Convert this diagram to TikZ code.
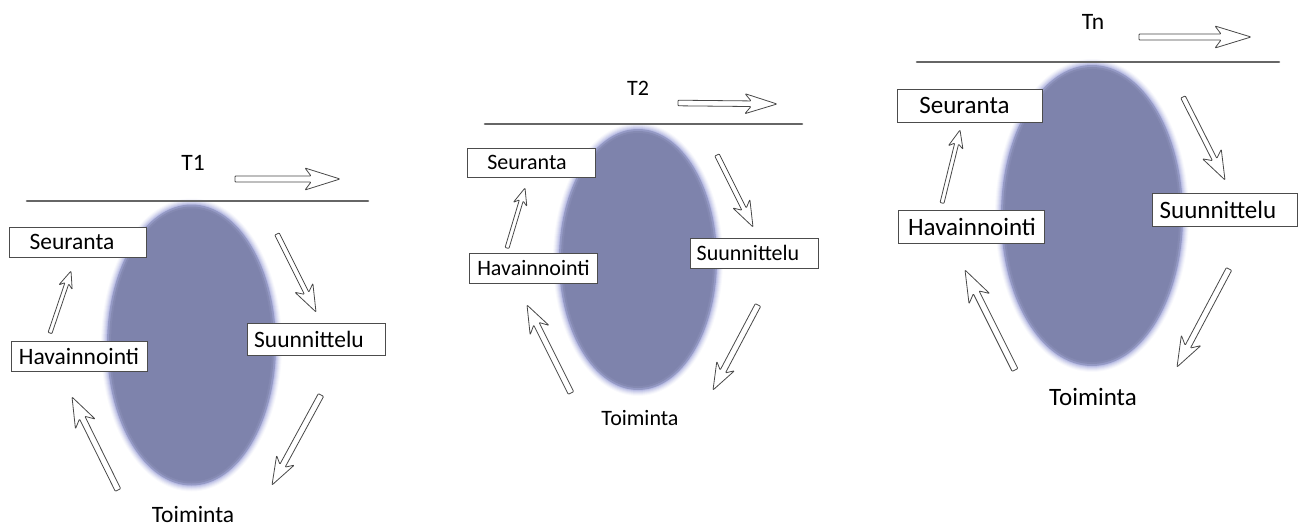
\documentclass[tikz,border=0pt]{standalone}
\usepackage{fontspec}
\setmainfont{Carlito}
\usetikzlibrary{shadows}

\definecolor{ellbody}{RGB}{126,131,172}
\definecolor{ellhalo}{RGB}{152,157,214}
\definecolor{rulegray}{RGB}{102,102,102}
\definecolor{arrowgray}{RGB}{72,72,72}

% hollow block arrow between two named coordinates:
% #1 from, #2 to, #3 shaft half-width, #4 head half-width, #5 head length, #6 barb notch
\newcommand\hollowarrow[6]{%
  \pgfmathanglebetweenpoints{\pgfpointanchor{#1}{center}}{\pgfpointanchor{#2}{center}}%
  \let\hAng\pgfmathresult
  \pgfpointdiff{\pgfpointanchor{#1}{center}}{\pgfpointanchor{#2}{center}}%
  \pgfgetlastxy\hDx\hDy
  \pgfmathsetmacro\hLen{veclen(\hDx,\hDy)}%
  \begin{scope}[shift={(#1)},rotate=\hAng]
    \draw[arrowline] (0,#3) -- ({\hLen-#5+#6},#3) -- ({\hLen-#5},#4) -- (\hLen,0)
      -- ({\hLen-#5},-#4) -- ({\hLen-#5+#6},-#3) -- (0,-#3) -- cycle;
  \end{scope}}

% ellipse with a soft bluish rim: #1 centre, #2 x radius, #3 y radius
\newcommand\softellipse[3]{%
  \foreach \k/\op in {0/0.06,1/0.09,2/0.12,3/0.16,4/0.22,5/0.30,6/0.40}{%
    \fill[ellhalo,opacity=\op] (#1) ellipse [x radius={#2+4-\k}, y radius={#3+4-\k}];}
  \fill[ellbody,opacity=0.5] (#1) ellipse [x radius={#2-2}, y radius={#3-2}];
  \fill[ellbody,opacity=0.7] (#1) ellipse [x radius={#2-4}, y radius={#3-4}];
  \fill[ellbody] (#1) ellipse [x radius={#2-6}, y radius={#3-6}];}

\begin{document}
\begin{tikzpicture}[x=1pt,y=-1pt,
  arrowline/.style={draw=arrowgray,fill=white,line width=0.8pt,line join=round,rounded corners=0.8pt},
  timeline/.style={draw=rulegray,line width=2.6pt,line cap=round},
  box/.style={draw=black!70,fill=white,line width=0.9pt,inner sep=0pt,
    drop shadow={shadow xshift=1.2pt,shadow yshift=-1.2pt,opacity=0.35}},
  txtA/.style={inner sep=0pt,font=\fontsize{23.5}{28}\selectfont},
  txtB/.style={inner sep=0pt,font=\fontsize{22}{26}\selectfont},
  txtC/.style={inner sep=0pt,font=\fontsize{25}{30}\selectfont},
]
\useasboundingbox (0,0) rectangle (1307,527);

%% ---------------- cycle T1 ----------------
\coordinate (e1) at (191.5,345);
\softellipse{e1}{86.5}{142.5}
\coordinate (l1a) at (27,201);
\coordinate (l1b) at (368,201);
\draw[timeline] (l1a) -- (l1b);
\node[txtA] (t1) at (193,163) {T1};
\coordinate (h1a) at (235,179);
\coordinate (h1b) at (340,179);
\hollowarrow{h1a}{h1b}{3}{11}{35}{6}

\node[box,minimum width=137,minimum height=30] (s1) at (77.5,242) {};
\node[txtA] (s1t) at (72,242) {Seuranta};
\node[box,minimum width=136,minimum height=30] (v1) at (79,356) {};
\node[txtA] (v1t) at (79,356) {Havainnointi};
\node[box,minimum width=138,minimum height=32] (p1) at (316,339) {};
\node[txtA] (p1t) at (309,339) {Suunnittelu};
\node[txtA] (m1) at (193,514) {Toiminta};

\coordinate (a1s) at (50,333);  \coordinate (a1e) at (71,271);
\coordinate (b1s) at (277,234); \coordinate (b1e) at (316,312);
\coordinate (c1s) at (321,395); \coordinate (c1e) at (272,485);
\coordinate (d1s) at (118,490); \coordinate (d1e) at (72,397);
\hollowarrow{a1s}{a1e}{2}{7}{17}{4}
\hollowarrow{b1s}{b1e}{2.5}{10}{27}{6}
\hollowarrow{c1s}{c1e}{3}{10}{28}{6}
\hollowarrow{d1s}{d1e}{3}{11}{30}{7}

%% ---------------- cycle T2 ----------------
\coordinate (e2) at (638,259.5);
\softellipse{e2}{81}{132.5}
\coordinate (l2a) at (485,124);
\coordinate (l2b) at (802,124);
\draw[timeline] (l2a) -- (l2b);
\node[txtB] (t2) at (638,88) {T2};
\coordinate (h2a) at (678,103);
\coordinate (h2b) at (777,104);
\hollowarrow{h2a}{h2b}{2.8}{10}{32}{6}

\node[box,minimum width=128,minimum height=29] (s2) at (531,162.5) {};
\node[txtB] (s2t) at (527,162.5) {Seuranta};
\node[box,minimum width=128,minimum height=30] (v2) at (533,268) {};
\node[txtB] (v2t) at (533.5,268) {Havainnointi};
\node[box,minimum width=128,minimum height=30] (p2) at (754,253) {};
\node[txtB] (p2t) at (748,253) {Suunnittelu};
\node[txtB] (m2) at (640,418) {Toiminta};

\coordinate (a2s) at (507,248); \coordinate (a2e) at (525,188);
\coordinate (b2s) at (717,155); \coordinate (b2e) at (753,227);
\coordinate (c2s) at (758,305); \coordinate (c2e) at (713,390);
\coordinate (d2s) at (571,393); \coordinate (d2e) at (527,305);
\hollowarrow{a2s}{a2e}{2}{7}{17}{4}
\hollowarrow{b2s}{b2e}{2.5}{9.5}{26}{6}
\hollowarrow{c2s}{c2e}{3}{10}{27}{6}
\hollowarrow{d2s}{d2e}{3}{10.5}{28}{7}

%% ---------------- cycle Tn ----------------
\coordinate (e3) at (1092,215.5);
\softellipse{e3}{93}{152.5}
\coordinate (l3a) at (917,62);
\coordinate (l3b) at (1279,62);
\draw[timeline] (l3a) -- (l3b);
\node[txtA] (t3) at (1093,22) {Tn};
\coordinate (h3a) at (1139,37);
\coordinate (h3b) at (1251,37);
\hollowarrow{h3a}{h3b}{3}{11}{36}{6}

\node[box,minimum width=145,minimum height=33] (s3) at (969.5,105.5) {};
\node[txtC] (s3t) at (964.5,105.5) {Seuranta};
\node[box,minimum width=146,minimum height=33] (v3) at (971,226.5) {};
\node[txtC] (v3t) at (972,226.5) {Havainnointi};
\node[box,minimum width=145,minimum height=33] (p3) at (1224.5,209.5) {};
\node[txtC] (p3t) at (1218,209.5) {Suunnittelu};
\node[txtC] (m3) at (1093,397) {Toiminta};

\coordinate (a3s) at (942,203);  \coordinate (a3e) at (960,130);
\coordinate (b3s) at (1183,97);  \coordinate (b3e) at (1225,180);
\coordinate (c3s) at (1229,269); \coordinate (c3e) at (1177,367);
\coordinate (d3s) at (1015,370); \coordinate (d3e) at (965,270);
\hollowarrow{a3s}{a3e}{2}{7.5}{18}{4}
\hollowarrow{b3s}{b3e}{2.5}{10.5}{29}{6}
\hollowarrow{c3s}{c3e}{3}{11}{30}{7}
\hollowarrow{d3s}{d3e}{3.2}{11.5}{32}{7}
\end{tikzpicture}
\end{document}
